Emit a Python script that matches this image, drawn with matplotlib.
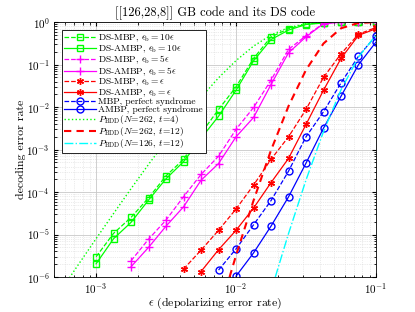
import matplotlib
matplotlib.use('Agg')
import matplotlib.pyplot as plt
from matplotlib.ticker import NullFormatter

plt.rcParams['font.family'] = 'serif'
plt.rcParams['font.serif'] = ['cmr10']
plt.rcParams['mathtext.fontset'] = 'cm'
plt.rcParams['axes.formatter.use_mathtext'] = True

# depolarizing error rates used for the simulated points
eps = [1.0e-3, 1.334e-3, 1.778e-3, 2.371e-3, 3.162e-3, 4.217e-3, 5.623e-3, 7.499e-3,
       1.0e-2, 1.334e-2, 1.778e-2, 2.371e-2, 3.162e-2, 4.217e-2, 5.623e-2, 7.499e-2, 1.0e-1]

# eb = 10 eps (all 17 points)
ds_mbp_10 = [3.0e-6, 1.07e-5, 2.54e-5, 7.3e-5, 2.42e-4, 5.9e-4, 2.4e-3, 8.8e-3,
             0.030, 0.14, 0.45, 0.70, 0.90, 0.97, 1.0, 1.0, 1.0]
ds_ambp_10 = [2.05e-6, 8.0e-6, 1.94e-5, 6.5e-5, 2.06e-4, 5.2e-4, 1.84e-3, 6.1e-3,
              0.025, 0.123, 0.39, 0.65, 0.88, 0.96, 1.0, 1.0, 1.0]
# eb = 5 eps (from eps[2])
ds_mbp_5 = [2.42e-6, 7.8e-6, 2.2e-5, 7.8e-5, 2.6e-4, 7.0e-4, 3.0e-3, 9.8e-3,
            0.043, 0.228, 0.48, 0.93, 1.0, 1.0, 1.0]
ds_ambp_5 = [1.75e-6, 5.0e-6, 1.58e-5, 4.5e-5, 1.9e-4, 4.7e-4, 2.0e-3, 5.7e-3,
             0.034, 0.19, 0.45, 0.92, 1.0, 1.0, 1.0]
# eb = eps (MBP from eps[5], AMBP from eps[6])
ds_mbp_1 = [1.54e-6, 4.3e-6, 1.26e-5, 4.0e-5, 1.46e-4, 5.9e-4, 2.0e-3, 8.8e-3,
            0.05, 0.18, 0.52, 0.75]
ds_ambp_1 = [1.35e-6, 4.4e-6, 1.26e-5, 4.2e-5, 1.67e-4, 6.2e-4, 3.9e-3, 0.025,
             0.14, 0.49, 0.70]
# perfect syndrome (MBP from eps[7], AMBP from eps[8])
mbp_perfect = [1.46e-6, 4.6e-6, 1.7e-5, 6.3e-5, 3.1e-4, 2.0e-3, 7.8e-3, 0.037, 0.158, 0.48]
ambp_perfect = [1.05e-6, 3.7e-6, 1.58e-5, 7.7e-5, 4.8e-4, 3.2e-3, 0.018, 0.10, 0.34]

# bounded distance decoding curves
bdd1_eps = [5.623e-4, 7.499e-4] + eps
bdd1 = [4.94e-7, 2.0e-6, 8.0e-6, 3.14e-5, 1.206e-4, 4.49e-4, 1.60e-3, 5.42e-3, 0.0170,
        0.0489, 0.1245, 0.2728, 0.4988, 0.7457, 0.9189, 0.9868, 0.99917, 0.99999, 1.0]
bdd2 = [1.365e-7, 3.23e-6, 6.34e-5, 9.66e-4, 1.055e-2, 0.0752, 0.3144, 0.7162, 0.9602, 0.99896]
bdd3 = [4.67e-7, 1.054e-5, 1.925e-4, 2.662e-3, 2.545e-2, 0.1507, 0.4960]

xticks = [1e-3, 1e-2, 1e-1]
yticks = [1e-6, 1e-5, 1e-4, 1e-3, 1e-2, 1e-1, 1]

labels = [r'DS-MBP, $\epsilon_\mathrm{b}=10\epsilon$',
          r'DS-AMBP, $\epsilon_\mathrm{b}=10\epsilon$',
          r'DS-MBP, $\epsilon_\mathrm{b}=5\epsilon$',
          r'DS-AMBP, $\epsilon_\mathrm{b}=5\epsilon$',
          r'DS-MBP, $\epsilon_\mathrm{b}=\epsilon$',
          r'DS-AMBP, $\epsilon_\mathrm{b}=\epsilon$',
          'MBP, perfect syndrome',
          'AMBP, perfect syndrome',
          r'$P_\mathrm{BDD}(N\!=\!262,\,t\!=\!4)$',
          r'$P_\mathrm{BDD}(N\!=\!262,\,t\!=\!12)$',
          r'$P_\mathrm{BDD}(N\!=\!126,\,t\!=\!12)$']

green = '#00ff00'
mag = '#ff00ff'
red = '#ff0000'
blue = '#0000ff'
cyan = '#00ffff'
star = (6, 2, 0)

fig = plt.figure(figsize=(4.15, 3.12), dpi=100)
ax = fig.add_axes([0.130, 0.112, 0.776, 0.817])

ax.plot(eps, ds_mbp_10, '--s', color=green, mfc='none', ms=5, lw=0.9, label=labels[0])
ax.plot(eps, ds_ambp_10, '-s', color=green, mfc='none', ms=5, lw=0.9, label=labels[1])
ax.plot(eps[2:], ds_mbp_5, '--', marker='+', color=mag, ms=6, lw=0.9, label=labels[2])
ax.plot(eps[2:], ds_ambp_5, '-', marker='+', color=mag, ms=6, lw=0.9, label=labels[3])
ax.plot(eps[5:], ds_mbp_1, '--', marker=star, color=red, ms=5, lw=0.9, label=labels[4])
ax.plot(eps[6:], ds_ambp_1, '-', marker=star, color=red, ms=5, lw=0.9, label=labels[5])
ax.plot(eps[7:], mbp_perfect, '--o', color=blue, mfc='none', ms=5, lw=0.9, label=labels[6])
ax.plot(eps[8:], ambp_perfect, '-o', color=blue, mfc='none', ms=5, lw=0.9, label=labels[7])
ax.plot(bdd1_eps, bdd1, ':', color=green, lw=1.0, label=labels[8])
ax.plot(eps[7:], bdd2, '--', color=red, lw=1.5, dashes=(3.5, 2.5), label=labels[9])
ax.plot(eps[10:], bdd3, '-.', color=cyan, lw=1.0, label=labels[10])

ax.set_xscale('log')
ax.set_yscale('log')
ax.set_xticks(xticks)
ax.set_yticks(yticks)
ax.set_xlim(5e-4, 0.1)
ax.set_ylim(1e-6, 1)
ax.xaxis.set_minor_formatter(NullFormatter())
ax.yaxis.set_minor_formatter(NullFormatter())
ax.grid(True, which='major', color='#c8c8c8', lw=0.6)
ax.grid(True, which='minor', color='#d8d8d8', lw=0.5, ls=':')
ax.tick_params(which='both', direction='in', top=True, right=True, labelsize=8)
ax.tick_params(which='major', length=3, pad=3)
ax.tick_params(which='minor', length=1.8)
for s in ax.spines.values():
    s.set_linewidth(0.6)

ax.set_title('[[126,28,8]] GB code and its DS code', fontsize=9, pad=4)
ax.set_xlabel(r'$\epsilon$ (depolarizing error rate)', fontsize=8.5, labelpad=0)
ax.set_ylabel('decoding error rate', fontsize=8.5, labelpad=0)

leg = ax.legend(loc='upper left', fontsize=6.8, labelspacing=-0.1, handlelength=3.3,
                handleheight=0.5, handletextpad=0.3, borderpad=0.3, borderaxespad=0.8,
                fancybox=False, framealpha=1, edgecolor='black')
leg.get_frame().set_linewidth(0.6)

fig.savefig('out.png', dpi=100)
